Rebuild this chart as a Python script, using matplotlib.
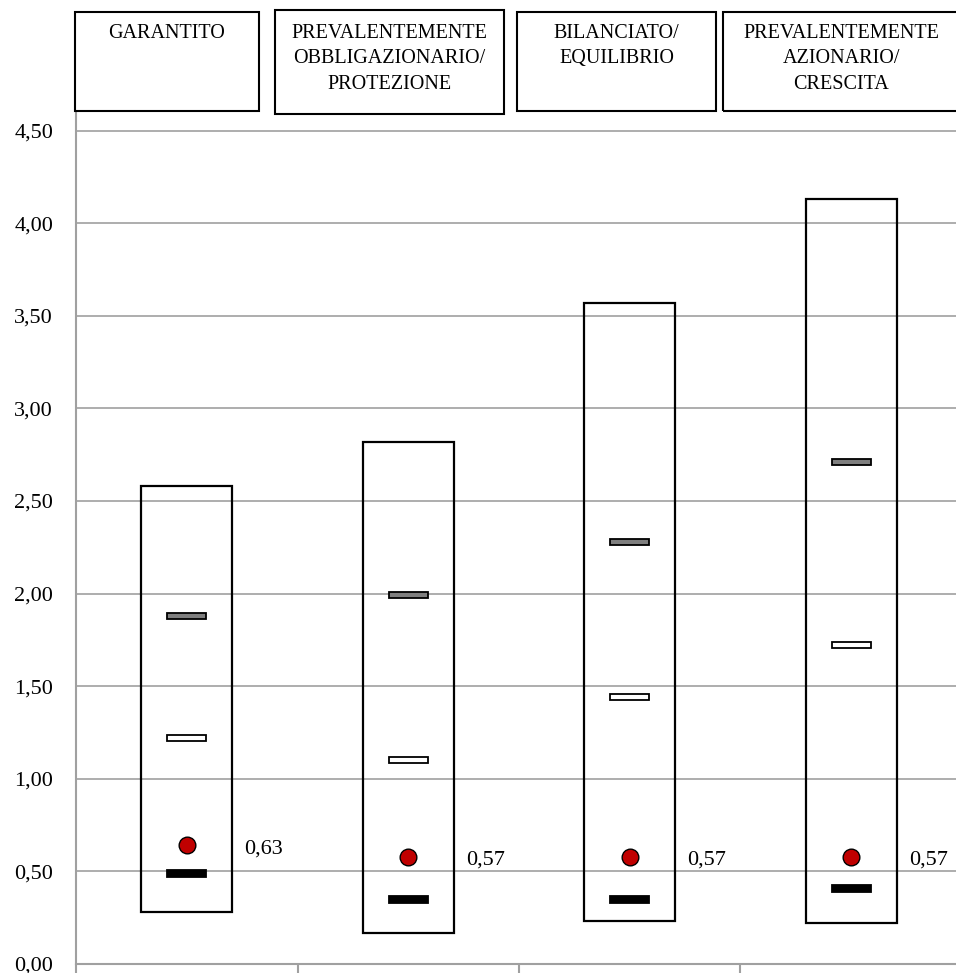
# -*- coding: utf-8 -*-
import matplotlib
matplotlib.use('Agg')
import matplotlib.pyplot as plt
from matplotlib.patches import Rectangle

# ---- dati ----
categorie = ['GARANTITO',
             'PREVALENTEMENTE\nOBBLIGAZIONARIO/\nPROTEZIONE',
             'BILANCIATO/\nEQUILIBRIO',
             'PREVALENTEMENTE\nAZIONARIO/\nCRESCITA']
minimo = [0.28, 0.17, 0.23, 0.22]
massimo = [2.58, 2.82, 3.57, 4.13]
quartile_alto = [1.88, 1.99, 2.28, 2.71]
mediana = [1.22, 1.10, 1.44, 1.72]
quartile_basso = [0.49, 0.35, 0.35, 0.41]
valore = [0.64, 0.58, 0.58, 0.58]
etichette = ['0,63', '0,57', '0,57', '0,57']
yticks = [0.0, 0.5, 1.0, 1.5, 2.0, 2.5, 3.0, 3.5, 4.0, 4.5]

serif = 'Liberation Serif'
grigio = '#a0a0a0'

fig = plt.figure(figsize=(9.56, 9.73), dpi=100)
W, H = 956.0, 973.0
ax = fig.add_axes([76 / W, 9 / H, 886 / W, 852 / H])

x = list(range(len(categorie)))

# range min-max
ax.bar(x, [m - n for m, n in zip(massimo, minimo)], bottom=minimo, width=0.41,
       fill=False, edgecolor='black', linewidth=1.6, zorder=3)

# trattini
h = 0.032
def trattini(vals, fc, hh=h):
    ax.bar(x, [hh] * len(vals), bottom=[v - hh / 2 for v in vals], width=0.175,
           color=fc, edgecolor='black', linewidth=1.3, zorder=4)

trattini(quartile_alto, '#7f7f7f')
trattini(mediana, 'white')
trattini(quartile_basso, 'black', 0.038)

ax.plot(x, valore, 'o', color='#c00000', markeredgecolor='black',
        markeredgewidth=1.0, markersize=12, zorder=5, linestyle='none')
for xi, v, t in zip(x, valore, etichette):
    ax.text(xi + 0.26, v - 0.02, t, ha='left', va='center', fontsize=16,
            family=serif)

ax.set_xlim(-0.5, 3.5)
ax.set_ylim(0, 4.6)
ax.set_yticks(yticks)
ax.set_yticklabels([('%.2f' % v).replace('.', ',') for v in yticks],
                   family=serif, fontsize=16)
ax.yaxis.grid(True, color=grigio, linewidth=1.2)
ax.set_axisbelow(True)
ax.tick_params(axis='y', length=0, pad=16.5)
ax.set_xticks([-0.5, 0.5, 1.5, 2.5, 3.5])
ax.set_xticklabels([])
ax.tick_params(axis='x', direction='out', length=7, width=1.5, color=grigio)
for s in ['top', 'right']:
    ax.spines[s].set_visible(False)
for s in ['left', 'bottom']:
    ax.spines[s].set_color(grigio)
    ax.spines[s].set_linewidth(1.5)

# caselle di intestazione
caselle = [(75, 12, 259, 111), (275, 10, 504, 114), (517, 12, 716, 111),
           (723, 12, 960, 111)]
for (x0, y0, x1, y1), nome in zip(caselle, categorie):
    fig.add_artist(Rectangle((x0 / W, 1 - y1 / H), (x1 - x0) / W, (y1 - y0) / H,
                             transform=fig.transFigure, fill=False,
                             edgecolor='black', linewidth=1.5))
    fig.text((x0 + x1) / 2 / W, 1 - 24 / H, nome, ha='center', va='top',
             fontsize=14.5, family=serif, linespacing=1.45)

fig.savefig('out.png', dpi=100)
